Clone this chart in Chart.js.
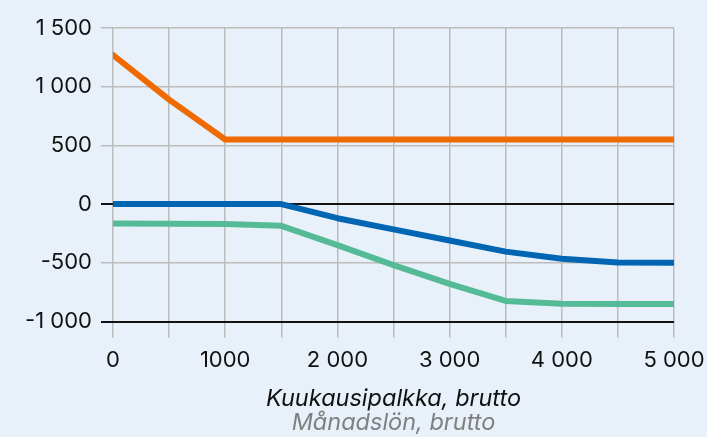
<!DOCTYPE html>
<html>
<head>
<meta charset="utf-8">
<script src="https://cdn.jsdelivr.net/npm/chart.js@4"></script>
<style>
  html, body { margin: 0; padding: 0; background: #e8f1fa; }
  #wrap { width: 707px; height: 437px; }
</style>
</head>
<body>
<div id="wrap"><canvas id="c" width="707" height="437"></canvas></div>
<script>
const salaries = [0, 500, 1000, 1500, 2000, 2500, 3000, 3500, 4000, 4500, 5000];
const orangeSeries = [1270, 890, 550, 550, 550, 550, 550, 550, 550, 550, 550];
const blueSeries = [0, 0, 0, 0, -120, -215, -310, -405, -465, -497, -500];
const greenSeries = [-165, -167, -170, -185, -350, -520, -680, -825, -848, -850, -850];

const xTickLabels = { 0: '0', 1000: '1000', 2000: '2 000', 3000: '3 000', 4000: '4 000', 5000: '5 000' };
const yTickLabels = { 1500: '1 500', 1000: '1 000', 500: '500', 0: '0', '-500': '-500', '-1000': '-1 000' };

const xTitle = 'Kuukausipalkka, brutto';
const xSubtitle = 'Månadslön, brutto';

const toPoints = arr => arr.map((v, i) => ({ x: salaries[i], y: v }));
const FONT = 'Inter';

const lineStyle = color => ({
  borderColor: color,
  backgroundColor: color,
  borderWidth: 6,
  pointRadius: 0,
  borderCapStyle: 'round',
  borderJoinStyle: 'round',
  tension: 0,
  fill: false
});

new Chart(document.getElementById('c'), {
  type: 'line',
  data: {
    datasets: [
      Object.assign({ label: 'orange', data: toPoints(orangeSeries) }, lineStyle('#ef6a00')),
      Object.assign({ label: 'green', data: toPoints(greenSeries) }, lineStyle('#55bb96')),
      Object.assign({ label: 'blue', data: toPoints(blueSeries) }, lineStyle('#0066b3'))
    ]
  },
  options: {
    responsive: false,
    animation: false,
    layout: { padding: { top: 28, right: 33, left: 0, bottom: 0 } },
    plugins: {
      legend: { display: false },
      tooltip: { enabled: false },
      subtitle: {
        display: true,
        text: xSubtitle,
        position: 'bottom',
        fullSize: false,
        color: '#808080',
        font: { family: FONT, size: 23.5, style: 'italic', lineHeight: 1.0 },
        padding: { top: 0, bottom: 2 }
      }
    },
    scales: {
      x: {
        type: 'linear',
        min: 0,
        max: 5000,
        border: { display: false },
        grid: {
          color: '#bcbcbc',
          lineWidth: 1.5,
          tickLength: 16,
          drawTicks: true
        },
        ticks: {
          stepSize: 500,
          autoSkip: false,
          maxRotation: 0,
          padding: 10,
          color: '#111',
          font: { family: FONT, size: 22 },
          callback: v => (xTickLabels[v] !== undefined ? xTickLabels[v] : '')
        },
        title: {
          display: true,
          text: xTitle,
          color: '#111',
          font: { family: FONT, size: 23.5, style: 'italic', lineHeight: 1.0 },
          padding: { top: 4, bottom: 1 }
        },
        afterFit: s => {
          s.height = 90;
          s.paddingLeft = 0; s.paddingRight = 0; s.paddingTop = 0; s.paddingBottom = 0;
        }
      },
      y: {
        type: 'linear',
        min: -1000,
        max: 1500,
        border: { display: false },
        grid: {
          color: ctx => (ctx.tick && (ctx.tick.value === 0 || ctx.tick.value === -1000) ? '#111' : '#bcbcbc'),
          lineWidth: ctx => (ctx.tick && (ctx.tick.value === 0 || ctx.tick.value === -1000) ? 2 : 1.5),
          tickLength: 12
        },
        ticks: {
          stepSize: 500,
          padding: 9,
          color: '#111',
          font: { family: FONT, size: 22 },
          callback: v => (yTickLabels[v] !== undefined ? yTickLabels[v] : '')
        },
        afterFit: s => {
          s.width = 113;
          s.paddingLeft = 0; s.paddingRight = 0; s.paddingTop = 0; s.paddingBottom = 0;
        }
      }
    }
  }
});
</script>
</body>
</html>
